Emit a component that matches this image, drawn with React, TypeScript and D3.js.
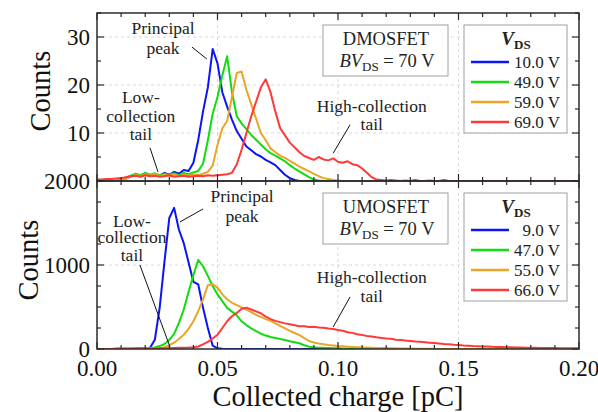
import React from "react";
import * as d3 from "d3";

// ---------- data ----------
// bin centres (pC), step 0.002 pC
const chargeBins = d3.range(101).map((i) => +(i * 0.002).toFixed(3));

const topLabels = ["10.0 V", "49.0 V", "59.0 V", "69.0 V"];
const bottomLabels = ["9.0 V", "47.0 V", "55.0 V", "66.0 V"];
const seriesColors = ["#0a14f5", "#10dc10", "#e8a628", "#ff3838"];

// DMOSFET counts
const dmos10 = [
  0, 0, 0, 0, 0, 0.2, 0.5, 0.9, 1.3, 1.0, 1.6, 1.2, 1.4, 1.1, 1.7, 1.3, 1.9, 1.5, 2.3, 2.1,
  3.8, 8.5, 14.5, 19.5, 27.5, 24.5, 18.5, 15.5, 12.8, 10.4, 8.8, 7.2, 6.4, 5.6, 5.1, 4.4, 3.9, 3.3, 2.3, 1.3,
  0.6, 0.2, 0, 0, 0, 0, 0, 0, 0, 0, 0, 0, 0, 0, 0, 0, 0, 0, 0, 0,
  0, 0, 0, 0, 0, 0, 0, 0, 0, 0, 0, 0, 0, 0, 0, 0, 0, 0, 0, 0,
  0, 0, 0, 0, 0, 0, 0, 0, 0, 0, 0, 0, 0, 0, 0, 0, 0, 0, 0, 0, 0,
];
const dmos49 = [
  0, 0, 0, 0, 0, 0.3, 0.7, 1.1, 1.5, 1.2, 1.7, 1.3, 1.6, 1.2, 1.5, 1.3, 1.6, 1.2, 1.7, 1.4,
  1.8, 2.1, 3.6, 8.5, 14, 17.5, 22, 26, 18.5, 13.5, 12, 10.8, 9.6, 8.6, 7.6, 6.6, 5.8, 5.3, 4.7, 4.1,
  3.3, 2.6, 2.0, 1.4, 0.8, 0.3, 0.1, 0, 0, 0, 0, 0, 0, 0, 0, 0, 0, 0, 0, 0,
  0, 0, 0, 0, 0, 0, 0, 0, 0, 0, 0, 0, 0, 0, 0, 0, 0, 0, 0, 0,
  0, 0, 0, 0, 0, 0, 0, 0, 0, 0, 0, 0, 0, 0, 0, 0, 0, 0, 0, 0, 0,
];
const dmos59 = [
  0, 0, 0, 0, 0, 0.2, 0.5, 0.9, 1.3, 1.0, 1.4, 1.1, 1.5, 1.0, 1.3, 1.1, 1.4, 1.0, 1.3, 1.1,
  1.4, 1.2, 1.5, 1.9, 3.2, 7.5, 11, 12.5, 17.5, 22.5, 22.8, 19, 16, 13, 10, 8.5, 6.8, 6.0, 5.3, 4.8,
  4.2, 3.6, 3.0, 2.5, 2.0, 1.5, 1.0, 0.6, 0.4, 0.2, 0.1, 0, 0, 0, 0, 0, 0, 0, 0, 0,
  0, 0, 0, 0, 0, 0, 0, 0, 0, 0, 0, 0, 0, 0, 0, 0, 0, 0, 0, 0,
  0, 0, 0, 0, 0, 0, 0, 0, 0, 0, 0, 0, 0, 0, 0, 0, 0, 0, 0, 0, 0,
];
const dmos69 = [
  0.3, 0.3, 0.4, 0.4, 0.5, 0.6, 0.8, 1.0, 1.1, 0.9, 1.2, 1.0, 1.1, 0.9, 1.0, 1.2, 0.9, 1.0, 1.1, 0.9,
  1.0, 1.1, 1.0, 1.2, 1.1, 1.2, 1.3, 1.4, 1.7, 3.5, 6.5, 10, 13.5, 16.5, 19.5, 21.2, 18.5, 14.5, 11, 9.5,
  8, 7, 6, 5.2, 4.8, 4.4, 5.0, 4.5, 4.3, 4.7, 4.0, 3.8, 4.1, 3.5, 3.3, 2.6, 1.7, 0.8, 0.3, 0.2,
  0.1, 0.2, 0.1, 0, 0.1, 0, 0.2, 0, 0, 0.1, 0, 0, 0.2, 0, 0, 0, 0, 0, 0, 0,
  0, 0, 0, 0, 0, 0, 0, 0, 0, 0, 0, 0, 0, 0, 0, 0, 0, 0, 0, 0, 0,
];

// UMOSFET counts
const umos9 = [
  0, 0, 0, 0, 2, 3, 3, 4, 5, 6, 8, 15, 110, 490, 1040, 1560, 1680, 1420, 1260, 1030,
  800, 770, 490, 250, 40, 8, 3, 1, 0, 0, 0, 0, 0, 0, 0, 0, 0, 0, 0, 0,
  0, 0, 0, 0, 0, 0, 0, 0, 0, 0, 0, 0, 0, 0, 0, 0, 0, 0, 0, 0,
  0, 0, 0, 0, 0, 0, 0, 0, 0, 0, 0, 0, 0, 0, 0, 0, 0, 0, 0, 0,
  0, 0, 0, 0, 0, 0, 0, 0, 0, 0, 0, 0, 0, 0, 0, 0, 0, 0, 0, 0, 0,
];
const umos47 = [
  0, 0, 0, 0, 1, 2, 3, 4, 5, 6, 8, 12, 18, 35, 60, 110, 180, 310, 470, 680,
  880, 1060, 985, 870, 750, 650, 570, 490, 445, 400, 330, 285, 245, 212, 182, 160, 142, 130, 118, 108,
  92, 80, 68, 45, 28, 20, 16, 14, 12, 10, 8, 6, 4, 2, 1, 0, 0, 0, 0, 0,
  0, 0, 0, 0, 0, 0, 0, 0, 0, 0, 0, 0, 0, 0, 0, 0, 0, 0, 0, 0,
  0, 0, 0, 0, 0, 0, 0, 0, 0, 0, 0, 0, 0, 0, 0, 0, 0, 0, 0, 0, 0,
];
const umos55 = [
  0, 0, 0, 0, 1, 2, 2, 3, 3, 4, 5, 6, 8, 10, 20, 45, 75, 120, 170, 240,
  330, 450, 590, 760, 772, 730, 650, 592, 550, 522, 495, 470, 440, 405, 382, 355, 335, 305, 275, 245,
  215, 190, 165, 130, 95, 78, 66, 56, 48, 42, 36, 32, 28, 24, 21, 19, 17, 15, 13, 12,
  11, 10, 8, 7, 6, 5, 4, 3, 2, 2, 1, 1, 0, 0, 0, 0, 0, 0, 0, 0,
  0, 0, 0, 0, 0, 0, 0, 0, 0, 0, 0, 0, 0, 0, 0, 0, 0, 0, 0, 0, 0,
];
const umos66 = [
  0, 0, 0, 0, 2, 3, 3, 4, 4, 5, 5, 6, 7, 8, 9, 10, 12, 14, 16, 18,
  22, 30, 55, 85, 125, 170, 250, 330, 390, 430, 480, 492, 470, 448, 425, 385, 355, 335, 320, 305,
  295, 282, 270, 272, 262, 265, 255, 252, 244, 238, 225, 218, 200, 192, 175, 168, 155, 150, 140, 132,
  125, 121, 110, 106, 100, 96, 90, 86, 80, 75, 70, 66, 60, 56, 50, 47, 42, 39, 35, 33,
  30, 29, 26, 25, 23, 22, 20, 19, 17, 16, 14, 14, 12, 12, 11, 11, 10, 10, 9, 9, 8,
];

const dmosSeries = [dmos10, dmos49, dmos59, dmos69];
const umosSeries = [umos9, umos47, umos55, umos66];

const xTickValues = [0, 0.05, 0.1, 0.15, 0.2];
const xTickLabels = ["0.00", "0.05", "0.10", "0.15", "0.20"];
const topYTickValues = [10, 20, 30];
const bottomYTickValues = [0, 1000, 2000];

// ---------- layout ----------
const W = 598;
const H = 412;
const left = 97;
const right = 579;
const topY0 = 13;
const midY = 181;
const botY1 = 349;
const FONT = "Liberation Serif, DejaVu Serif, Times New Roman, serif";
const INK = "#2b2b2b";

const x = d3.scaleLinear().domain([0, 0.2]).range([left, right]);
const yTop = d3.scaleLinear().domain([0, 35]).range([midY, topY0]);
const yBot = d3.scaleLinear().domain([0, 2000]).range([botY1, midY]);

type Ann = { lines: string[]; tx: number; ty: number[]; from: [number, number]; to: [number, number] };

const topAnnotations: Ann[] = [
  { lines: ["Principal", "peak"], tx: 0.0274, ty: [30.6, 26.4], from: [0.0394, 27.9], to: [0.0456, 25.4] },
  { lines: ["Low-", "collection", "tail"], tx: 0.0182, ty: [16.3, 12.3, 8.5], from: [0.022, 6.9], to: [0.0253, 1.9] },
  { lines: ["High-collection", "tail"], tx: 0.114, ty: [14.4, 10.6], from: [0.105, 11.7], to: [0.098, 5.8] },
];
const bottomAnnotations: Ann[] = [
  { lines: ["Principal", "peak"], tx: 0.0602, ty: [1750, 1510], from: [0.044, 1667], to: [0.0344, 1512] },
  { lines: ["Low-", "collection", "tail"], tx: 0.0145, ty: [1452, 1262, 1048], from: [0.0178, 1000], to: [0.0303, 24] },
  { lines: ["High-collection", "tail"], tx: 0.114, ty: [786, 560], from: [0.105, 619], to: [0.098, 262] },
];

function Panel({
  y,
  y0,
  y1,
  series,
  majorY,
  minorY,
  labels,
  anns,
  device,
  clipId,
}: {
  y: d3.ScaleLinear<number, number>;
  y0: number;
  y1: number;
  series: number[][];
  majorY: number[];
  minorY: number[];
  labels: string[];
  anns: Ann[];
  device: string;
  clipId: string;
}) {
  const line = (vals: number[]) =>
    d3
      .line<number>()
      .x((_, i) => x(chargeBins[i]))
      .y((d) => y(d))(vals) || "";
  const xMinor = d3.range(0, 21).map((i) => i * 0.01);
  const yMax = y.domain()[1];
  const boxX = 323;
  const boxY = y0 + 12;
  const legX = 464;
  return (
    <g>
      <defs>
        <clipPath id={clipId}>
          <rect x={left} y={y0} width={right - left} height={y1 - y0} />
        </clipPath>
      </defs>
      {/* grid */}
      {xTickValues.slice(1, 4).map((t) => (
        <line key={"gx" + t} x1={x(t)} x2={x(t)} y1={y0} y2={y1} stroke="#cfcfcf" strokeWidth={0.8} strokeDasharray="3,3" />
      ))}
      {majorY.filter((t) => t > 0 && t < yMax).map((t) => (
        <line key={"gy" + t} x1={left} x2={right} y1={y(t)} y2={y(t)} stroke="#cfcfcf" strokeWidth={0.8} strokeDasharray="3,3" />
      ))}
      {/* curves */}
      <g clipPath={`url(#${clipId})`}>
        {series.map((vals, i) => (
          <path key={i} d={line(vals)} fill="none" stroke={seriesColors[i]} strokeWidth={2} strokeLinejoin="round" />
        ))}
      </g>
      {/* annotations */}
      {anns.map((a, k) => (
        <g key={"a" + k}>
          {a.lines.map((s, j) => (
            <text key={j} x={x(a.tx)} y={y(a.ty[j])} textAnchor="middle" style={{ fontFamily: FONT, fontSize: 17.5 }} fill="#222">
              {s}
            </text>
          ))}
          <line x1={x(a.from[0])} y1={y(a.from[1])} x2={x(a.to[0])} y2={y(a.to[1])} stroke="#111" strokeWidth={1} />
        </g>
      ))}
      {/* device box */}
      <rect x={boxX} y={boxY} width={125} height={51} fill="white" stroke="#a0a0a0" strokeWidth={1} />
      <text x={boxX + 63} y={boxY + 20} textAnchor="middle" style={{ fontFamily: FONT, fontSize: 18.5 }} fill="#222">
        {device}
      </text>
      <text x={boxX + 64} y={boxY + 42} textAnchor="middle" style={{ fontFamily: FONT, fontSize: 18.5 }} fill="#222">
        <tspan fontStyle="italic">BV</tspan>
        <tspan fontSize={13} dy={4}>DS</tspan>
        <tspan dy={-4}> = 70 V</tspan>
      </text>
      {/* legend */}
      <rect x={legX} y={boxY} width={103} height={108} fill="white" stroke="#a0a0a0" strokeWidth={1} />
      <text x={legX + 52} y={boxY + 20} textAnchor="middle" style={{ fontFamily: FONT }} fontWeight="bold" fill="#222">
        <tspan fontStyle="italic" fontSize={19}>V</tspan>
        <tspan fontSize={13} dy={4}>DS</tspan>
      </text>
      {labels.map((s, i) => (
        <g key={"l" + i}>
          <line x1={legX + 7} x2={legX + 45} y1={boxY + 37 + i * 20} y2={boxY + 37 + i * 20} stroke={seriesColors[i]} strokeWidth={2.5} />
          <text x={legX + 96} y={boxY + 43 + i * 20} textAnchor="end" style={{ fontFamily: FONT, fontSize: 17 }} fill="#222">
            {s}
          </text>
        </g>
      ))}
      {/* ticks */}
      {xMinor.map((t, i) => {
        const len = i % 5 === 0 ? 7 : 4;
        return (
          <g key={"tx" + i}>
            <line x1={x(t)} x2={x(t)} y1={y1} y2={y1 - len} stroke={INK} strokeWidth={1.2} />
            <line x1={x(t)} x2={x(t)} y1={y0} y2={y0 + len} stroke={INK} strokeWidth={1.2} />
          </g>
        );
      })}
      {minorY.map((t, i) => {
        const len = majorY.includes(t) ? 7 : 4;
        return (
          <g key={"ty" + i}>
            <line x1={left} x2={left + len} y1={y(t)} y2={y(t)} stroke={INK} strokeWidth={1.2} />
            <line x1={right} x2={right - len} y1={y(t)} y2={y(t)} stroke={INK} strokeWidth={1.2} />
          </g>
        );
      })}
      {/* frame */}
      <rect x={left} y={y0} width={right - left} height={y1 - y0} fill="none" stroke={INK} strokeWidth={1.5} />
    </g>
  );
}

export default function App() {
  const topMinor = d3.range(0, 36, 5);
  const botMinor = d3.range(0, 2001, 250);
  return (
    <svg width={W} height={H} style={{ position: "absolute", left: 0, top: 0, background: "white" }}>
      <rect x={0} y={0} width={W} height={H} fill="white" />
      <Panel y={yTop} y0={topY0} y1={midY} series={dmosSeries} majorY={topYTickValues} minorY={topMinor}
        labels={topLabels} anns={topAnnotations} device="DMOSFET" clipId="clipTop" />
      <Panel y={yBot} y0={midY} y1={botY1} series={umosSeries} majorY={bottomYTickValues} minorY={botMinor}
        labels={bottomLabels} anns={bottomAnnotations} device="UMOSFET" clipId="clipBot" />
      {/* y tick labels */}
      {topYTickValues.map((t) => (
        <text key={"yt" + t} x={90} y={yTop(t) + 8} textAnchor="end" style={{ fontFamily: FONT, fontSize: 23 }} fill="#111">
          {t}
        </text>
      ))}
      {bottomYTickValues.map((t) => (
        <text key={"yb" + t} x={90} y={yBot(t) + 8} textAnchor="end" style={{ fontFamily: FONT, fontSize: 23 }} fill="#111">
          {t}
        </text>
      ))}
      {/* x tick labels */}
      {xTickValues.map((t, i) => (
        <text key={"xl" + t} x={x(t)} y={376} textAnchor="middle" style={{ fontFamily: FONT, fontSize: 23 }} fill="#111">
          {xTickLabels[i]}
        </text>
      ))}
      <text x={x(0.1)} y={406} textAnchor="middle" style={{ fontFamily: FONT, fontSize: 28.5 }} fill="#111">
        Collected charge [pC]
      </text>
      <text transform={`translate(50, ${(topY0 + midY) / 2 - 6}) rotate(-90)`} textAnchor="middle" style={{ fontFamily: FONT, fontSize: 28.5 }} fill="#111">
        Counts
      </text>
      <text transform={`translate(38, ${(midY + botY1) / 2 - 5}) rotate(-90)`} textAnchor="middle" style={{ fontFamily: FONT, fontSize: 28.5 }} fill="#111">
        Counts
      </text>
    </svg>
  );
}
